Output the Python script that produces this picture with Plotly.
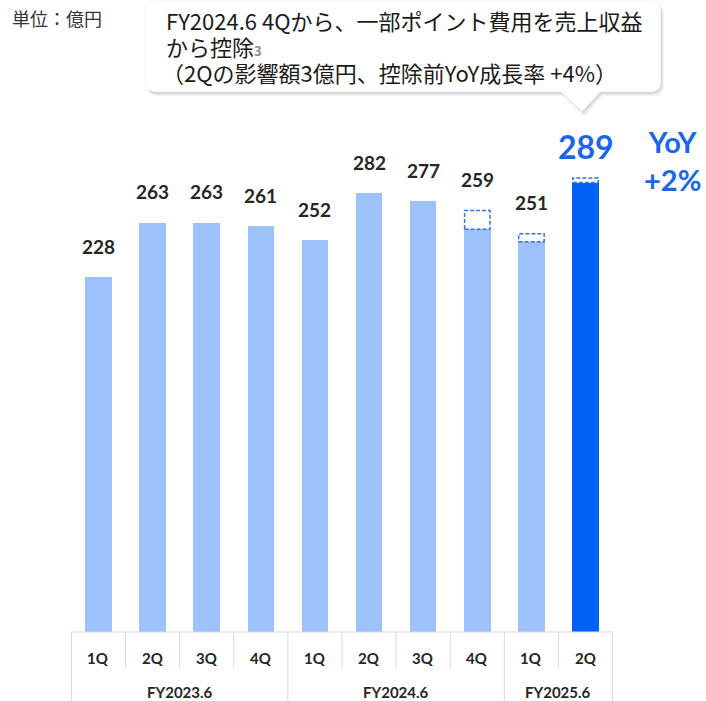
import plotly.graph_objects as go

# ---------------- data ----------------
quarters = ["1Q", "2Q", "3Q", "4Q", "1Q", "2Q", "3Q", "4Q", "1Q", "2Q"]
fiscal_years = ["FY2023.6", "FY2024.6", "FY2025.6"]
fy_of_quarter = ["FY2023.6"] * 4 + ["FY2024.6"] * 4 + ["FY2025.6"] * 2
revenue = [228, 263, 263, 261, 252, 282, 277, 259, 251, 289]
deducted_points = [0, 0, 0, 0, 0, 0, 0, 12, 5, 3]
unit_label = "単位：億円"
yoy_label = "YoY<br>+2%"
callout_lines = [
    "FY2024.6 4Qから、一部ポイント費用を売上収益",
    "から控除<span style=\"font-size:13px;color:#8c8c8c\"><b>3</b></span>",
    "（2Qの影響額3億円、控除前YoY成長率 +4%）",
]

# ---------------- styles ----------------
W, H = 706, 701
L_M, R_M = 66, 88
X_RANGE = [-0.6, 9.6]
Y_RANGE = [-44.4, 406.4]
LIGHT = "#9DC1FA"
DARK = "#0062F5"
BLUE_TXT = "#1A66EA"
DASH_COL = "#2F74E8"
GRID = "#D9D9D9"
TXT = "#262626"
FONT = "Lato, 'Noto Sans CJK JP', sans-serif"
JP_FONT = "'Noto Sans CJK JP', 'Noto Sans', sans-serif"
BAR_W = 0.49

pw = W - L_M - R_M


def px2paper(px, py):
    return (px - L_M) / pw, 1 - py / H


xs = list(range(len(quarters)))
last = len(quarters) - 1
colors = [DARK if i == last else LIGHT for i in xs]

fig = go.Figure()
fig.add_trace(go.Bar(
    x=xs, y=revenue, width=BAR_W, marker=dict(color=colors, line=dict(width=0)),
    hoverinfo="skip",
))

shapes = []
annotations = []

# dashed boxes for deducted point costs
for i, (v, d) in enumerate(zip(revenue, deducted_points)):
    if d > 0:
        shapes.append(dict(type="rect", xref="x", yref="y",
                           x0=i - BAR_W / 2 + 0.01, x1=i + BAR_W / 2 - 0.01,
                           y0=v, y1=v + d,
                           fillcolor="white",
                           line=dict(color=DASH_COL, width=1.5, dash="4px,2px")))

# value labels
for i, (v, d) in enumerate(zip(revenue, deducted_points)):
    big = i == last
    annotations.append(dict(
        x=i, y=v + d, xref="x", yref="y", text=f"<b>{v}</b>",
        showarrow=False, yanchor="middle", yshift=31,
        font=dict(family=FONT, size=32 if big else 19, color=BLUE_TXT if big else TXT),
    ))

# table grid under the bars
y_q_bottom = -23.2
y_bottom = Y_RANGE[0]
shapes.append(dict(type="line", xref="x", yref="y", x0=-0.5, x1=last + 0.5, y0=0, y1=0,
                   line=dict(color=GRID, width=1)))
shapes.append(dict(type="line", xref="x", yref="y", x0=-0.5, x1=-0.5, y0=0, y1=y_bottom,
                   line=dict(color=GRID, width=1)))
for i in range(len(quarters)):
    boundary = i + 0.5
    group_end = i == last or fy_of_quarter[i] != fy_of_quarter[i + 1]
    shapes.append(dict(type="line", xref="x", yref="y", x0=boundary, x1=boundary,
                       y0=0, y1=y_bottom if group_end else y_q_bottom,
                       line=dict(color=GRID, width=1)))

for i, q in enumerate(quarters):
    annotations.append(dict(x=i, y=-16.7, xref="x", yref="y", text=f"<b>{q}</b>",
                            showarrow=False, font=dict(family=FONT, size=15, color=TXT)))
for fy in fiscal_years:
    idx = [i for i, f in enumerate(fy_of_quarter) if f == fy]
    annotations.append(dict(x=sum(idx) / len(idx), y=-38.6, xref="x", yref="y",
                            text=f"<b>{fy}</b>", showarrow=False,
                            font=dict(family=FONT, size=15, color=TXT)))

# unit label
ux, uy = px2paper(10, 18)
annotations.append(dict(x=ux, y=uy, xref="paper", yref="paper", text=unit_label,
                        showarrow=False, xanchor="left", yanchor="middle",
                        font=dict(family=JP_FONT, size=18, color="#333333")))

# YoY label
yx, yy = px2paper(672, 160)
annotations.append(dict(x=yx, y=yy, xref="paper", yref="paper", text=f"<b>{yoy_label}</b>",
                        showarrow=False, xanchor="center", yanchor="middle",
                        font=dict(family=FONT, size=29, color=BLUE_TXT)))


# callout bubble
def bubble_path(dx=0, dy=0, l=145, r=661, t=1, b=92, rad=10, pl=561, pt=582, pr=600, ptip=112):
    def P(x, y):
        px_, py_ = px2paper(x + dx, y + dy)
        return f"{px_:.5f},{py_:.5f}"
    p = f"M {P(l + rad, t)} L {P(r - rad, t)} Q {P(r, t)} {P(r, t + rad)} "
    p += f"L {P(r, b - rad)} Q {P(r, b)} {P(r - rad, b)} "
    p += f"L {P(pr, b)} L {P(pt, ptip)} L {P(pl, b)} "
    p += f"L {P(l + rad, b)} Q {P(l, b)} {P(l, b - rad)} "
    p += f"L {P(l, t + rad)} Q {P(l, t)} {P(l + rad, t)} Z"
    return p


for (dx, dy, op) in [(3, 4, 0.04), (2, 3, 0.05), (1, 2, 0.06)]:
    shapes.append(dict(type="path", xref="paper", yref="paper", path=bubble_path(dx, dy),
                       fillcolor=f"rgba(0,0,0,{op})", line=dict(width=0)))
shapes.append(dict(type="path", xref="paper", yref="paper", path=bubble_path(),
                   fillcolor="white", line=dict(color="rgba(0,0,0,0.05)", width=1)))

for k, line in enumerate(callout_lines):
    lx, ly = px2paper(165 if k < 2 else 161, 20 + 26 * k)
    annotations.append(dict(x=lx, y=ly, xref="paper", yref="paper", text=line,
                            showarrow=False, xanchor="left", yanchor="middle", align="left",
                            borderpad=0,
                            font=dict(family=JP_FONT, size=22, color="#1a1a1a")))

fig.update_layout(
    width=W, height=H,
    margin=dict(l=L_M, r=R_M, t=0, b=0),
    paper_bgcolor="white", plot_bgcolor="white",
    showlegend=False,
    xaxis=dict(range=X_RANGE, visible=False, fixedrange=True),
    yaxis=dict(range=Y_RANGE, visible=False, fixedrange=True),
    shapes=shapes, annotations=annotations,
    bargap=0,
)

fig.write_html("out.html", config={"displayModeBar": False},
               post_script="document.body.style.margin='0';")
